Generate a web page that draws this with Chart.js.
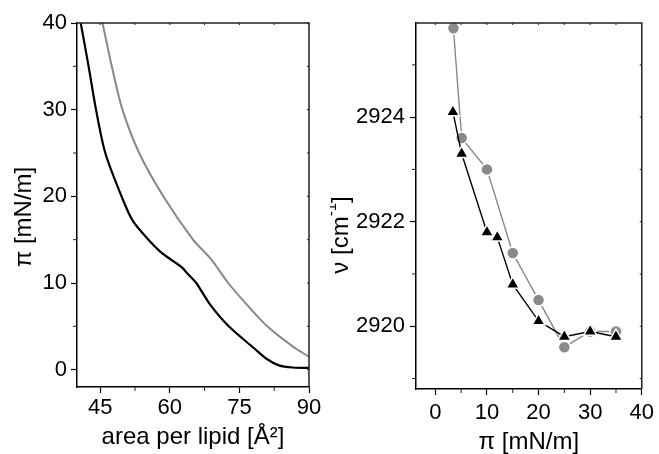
<!DOCTYPE html>
<html>
<head>
<meta charset="utf-8">
<script src="https://cdn.jsdelivr.net/npm/chart.js@4/dist/chart.umd.min.js"></script>
<style>
html, body { margin: 0; padding: 0; background: #fff; }
#wrap { position: relative; width: 659px; height: 454px; }
#left { position: absolute; left: 0; top: 0; }
#right { position: absolute; left: 330px; top: 0; }
</style>
</head>
<body>
<div id="wrap">
    <canvas id="left" width="330" height="454"></canvas>
    <canvas id="right" width="329" height="454"></canvas>
</div>
<script>
// left panel: isotherms, pressure vs area per lipid
const areaBlack = [40.8, 42.5, 44.1, 46.1, 49.6, 52.0, 55.4, 58.0, 60.8, 62.6, 63.8, 65.7, 68.7, 72.7, 78.1, 81, 83.5, 86.5, 90];
const piBlack   = [40, 35, 30, 25, 20, 17.2, 15, 13.6, 12.5, 11.8, 11.1, 10, 7.5, 5, 2.5, 1.2, 0.5, 0.25, 0.2];
const areaGray  = [45.5, 47.5, 49.8, 53.4, 58.6, 65.0, 68.8, 72.6, 76.6, 81, 86.7, 90];
const piGray    = [40, 35, 30, 25, 20, 15, 12.8, 10, 7.5, 5, 2.6, 1.5];

// right panel: band position vs pressure
const piTri  = [3.4, 5.1, 10, 12, 15, 20, 25, 30, 35];
const nuTri  = [2924.1, 2923.3, 2921.8, 2921.7, 2920.8, 2920.1, 2919.8, 2919.9, 2919.8];
const piDot  = [3.5, 5.1, 10, 15, 20, 25, 30, 35];
const nuDot  = [2925.7, 2923.6, 2923.0, 2921.4, 2920.5, 2919.6, 2919.9, 2919.9];

// ticks
const areaTicks = [45, 60, 75, 90];
const areaMinor = [52.5, 67.5, 82.5];
const piTicks = [0, 10, 20, 30, 40];
const piMinor = [5, 15, 25, 35];
const nuTicks = [2920, 2922, 2924];
const nuMinor = [2919, 2921, 2923, 2925];

Chart.defaults.font.family = "'Liberation Sans', Arial, sans-serif";
Chart.defaults.font.size = 22;
Chart.defaults.color = '#000';

const pts = (xs, ys) => xs.map((v, i) => ({ x: v, y: ys[i] }));

// frame on top/right, minor ticks and the rotated y title
const framePlugin = {
    id: 'frame',
    afterDraw(chart, args, opts) {
        const { ctx, chartArea: a, scales: { x, y } } = chart;
        ctx.save();
        ctx.strokeStyle = '#222';
        ctx.lineWidth = 1.5;
        ctx.beginPath();
        ctx.moveTo(a.left, a.top);
        ctx.lineTo(a.right, a.top);
        ctx.lineTo(a.right, a.bottom);
        ctx.stroke();

        ctx.lineWidth = 1;
        ctx.beginPath();
        opts.xMinor.forEach(v => {
            const px = x.getPixelForValue(v);
            ctx.moveTo(px, a.bottom); ctx.lineTo(px, a.bottom + 4);
        });
        opts.yMinor.forEach(v => {
            const py = y.getPixelForValue(v);
            ctx.moveTo(a.left, py); ctx.lineTo(a.left - 4, py);
        });
        opts.xMajor.concat(opts.xMinor).forEach(v => {
            const px = x.getPixelForValue(v);
            ctx.moveTo(px, a.top); ctx.lineTo(px, a.top + 2);
        });
        opts.yMajor.concat(opts.yMinor).forEach(v => {
            const py = y.getPixelForValue(v);
            ctx.moveTo(a.right, py); ctx.lineTo(a.right - 2, py);
        });
        ctx.stroke();

        // y axis title
        ctx.translate(opts.titleX, opts.titleY);
        ctx.rotate(-Math.PI / 2);
        ctx.fillStyle = '#000';
        ctx.textBaseline = 'middle';
        const fam = Chart.defaults.font.family;
        let total = 0;
        opts.title.forEach(p => {
            ctx.font = p.size + 'px ' + fam;
            total += ctx.measureText(p.t).width;
        });
        let cx = -total / 2;
        opts.title.forEach(p => {
            ctx.font = p.size + 'px ' + fam;
            ctx.fillText(p.t, cx, -(p.rise || 0));
            cx += ctx.measureText(p.t).width;
        });
        ctx.restore();
    }
};

function axis(tickList, min, max, fit, pad, extra) {
    return Object.assign({
        type: 'linear',
        min: min,
        max: max,
        afterBuildTicks: s => { s.ticks = tickList.map(v => ({ value: v })); },
        afterFit: fit,
        border: { display: true, color: '#000', width: 1.5 },
        grid: { display: true, drawOnChartArea: false, tickLength: 6, tickColor: '#000', tickWidth: 1.2 },
        ticks: { autoSkip: false, maxRotation: 0, padding: pad, callback: v => String(v) }
    }, extra);
}

new Chart(document.getElementById('left'), {
    type: 'scatter',
    data: {
        datasets: [
            { data: pts(areaBlack, piBlack), showLine: true, borderColor: '#000', borderWidth: 2.2,
              pointRadius: 0, tension: 0.3 },
            { data: pts(areaGray, piGray), showLine: true, borderColor: '#888', borderWidth: 2,
              pointRadius: 0, tension: 0.3 }
        ]
    },
    options: {
        responsive: false,
        animation: false,
        layout: { padding: { left: 0, top: 23, right: 21, bottom: 0 } },
        plugins: {
            legend: { display: false },
            tooltip: { enabled: false },
            frame: {
                xMajor: areaTicks, xMinor: areaMinor, yMajor: piTicks, yMinor: piMinor,
                titleX: 24, titleY: 217,
                title: [{ t: 'π [mN/m]', size: 24 }]
            }
        },
        scales: {
            x: axis(areaTicks, 40, 90, s => { s.height = 67; }, 2, {
                title: { display: true, text: 'area per lipid [Å²]', font: { size: 24, lineHeight: 1 }, padding: { top: 0, bottom: 5 } }
            }),
            y: axis(piTicks, -2, 40, s => { s.width = 77; }, 4)
        }
    },
    plugins: [framePlugin]
});

new Chart(document.getElementById('right'), {
    type: 'scatter',
    data: {
        datasets: [
            { data: pts(piTri, nuTri), showLine: true, borderColor: '#000', borderWidth: 1.4,
              pointStyle: 'triangle', pointRadius: 7.5, pointBackgroundColor: '#000',
              pointBorderColor: '#fff', pointBorderWidth: 1.5 },
            { data: pts(piDot, nuDot), showLine: true, borderColor: '#888', borderWidth: 1.4,
              pointStyle: 'circle', pointRadius: 6, pointBackgroundColor: '#8a8a8a',
              pointBorderColor: '#fff', pointBorderWidth: 1.5 }
        ]
    },
    options: {
        responsive: false,
        animation: false,
        layout: { padding: { left: 0, top: 23, right: 16, bottom: 0 } },
        plugins: {
            legend: { display: false },
            tooltip: { enabled: false },
            frame: {
                xMajor: piTicks, xMinor: piMinor, yMajor: nuTicks, yMinor: nuMinor,
                titleX: 11, titleY: 235,
                title: [{ t: 'ν [cm', size: 24 }, { t: '-1', size: 15, rise: 9 }, { t: ']', size: 24 }]
            }
        },
        scales: {
            x: axis(piTicks, -3.75, 40, s => { s.height = 65; }, 5, {
                title: { display: true, text: 'π [mN/m]', font: { size: 24, lineHeight: 1 }, padding: { top: 0, bottom: 0 } }
            }),
            y: axis(nuTicks, 2918.8, 2925.8, s => { s.width = 86; }, 5)
        }
    },
    plugins: [framePlugin]
});
</script>
</body>
</html>
